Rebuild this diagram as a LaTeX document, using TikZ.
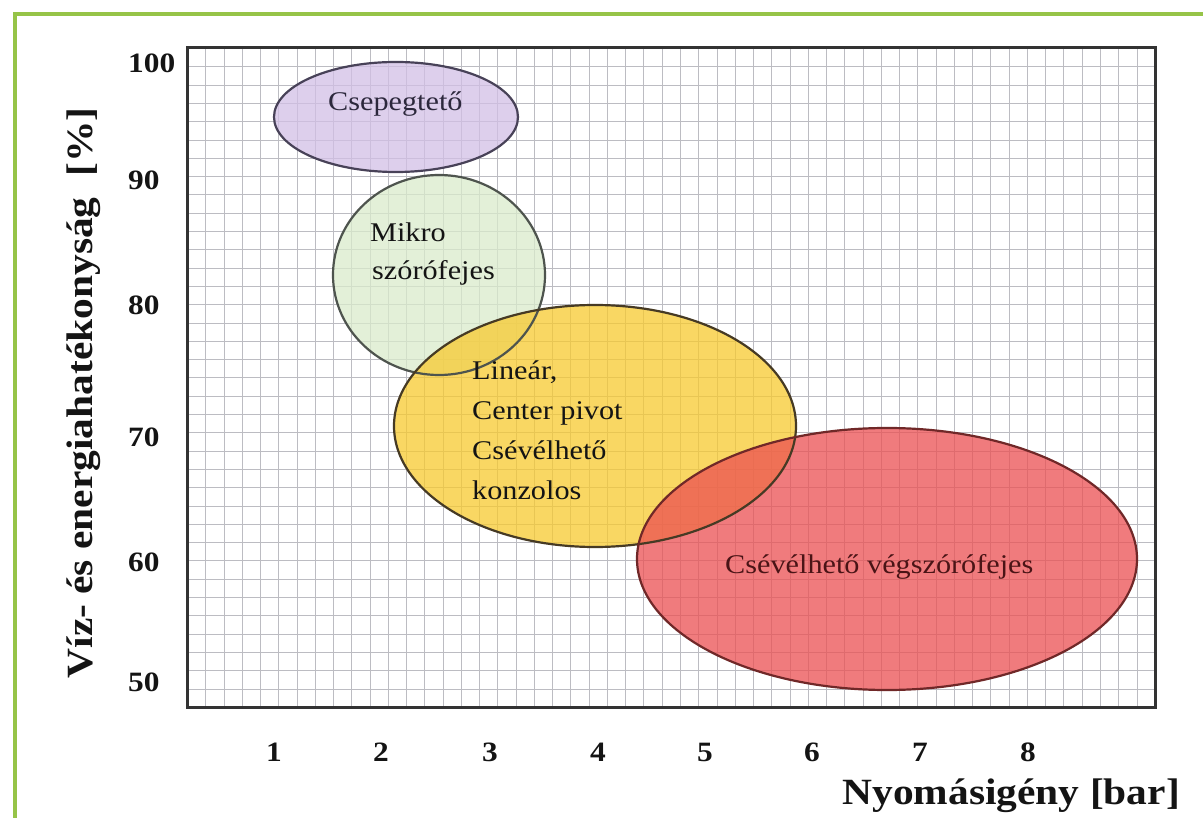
\documentclass[tikz,border=0pt]{standalone}
\usepackage{fontspec}
\setmainfont{Liberation Serif}[FakeStretch=1.12]
\definecolor{frameGreen}{RGB}{150,196,72}
\definecolor{gridgray}{RGB}{188,188,194}
\definecolor{ink}{RGB}{20,20,20}
\definecolor{blobP}{RGB}{210,192,230}
\definecolor{blobG}{RGB}{218,236,204}
\definecolor{blobY}{RGB}{248,202,48}
\definecolor{blobR}{RGB}{236,80,82}
\definecolor{rimP}{RGB}{72,66,88}
\definecolor{rimG}{RGB}{78,84,78}
\definecolor{rimY}{RGB}{70,58,36}
\definecolor{rimR}{RGB}{112,40,40}
\definecolor{txtP}{RGB}{44,40,60}
\definecolor{txtR}{RGB}{74,20,22}
\begin{document}
\begin{tikzpicture}[x=1pt,y=-1pt,
  gridline/.style={draw=gridgray,line width=1.1pt},
  ticklab/.style={font=\fontsize{28}{32}\selectfont\bfseries, text=ink, inner sep=0pt},
  axlab/.style={font=\fontsize{37}{42}\selectfont\bfseries, text=ink, inner sep=0pt},
  lab/.style={font=\fontsize{27}{32}\selectfont, text=ink, inner sep=0pt, anchor=base west},
  blob/.style={fill opacity=0.75},
  rim/.style={line width=2.2pt}]
\useasboundingbox (0,0) rectangle (1203,818);
\fill[white] (0,0) rectangle (1203,818);
% outer green frame
\draw[frameGreen, line width=3.5pt] (15,830) -- (15,14) -- (1215,14);
% grid
\foreach \i in {1,...,52} \draw[gridline] ({187.5+round(18.26*\i)},48) -- ({187.5+round(18.26*\i)},707);
\foreach \j in {1,...,35} \draw[gridline] (187,{48.5+round(18.3*\j)}) -- (1155,{48.5+round(18.3*\j)});
% fills
\fill[blobP, blob] (396,117) ellipse [x radius=122, y radius=55];
\fill[blobG, blob] (439,275) ellipse [x radius=106, y radius=100];
\fill[blobY, blob] (595,426) ellipse [x radius=201, y radius=121];
\fill[blobR, blob] (887,559) ellipse [x radius=250, y radius=131];
% outlines
\draw[rimP, rim] (396,117) ellipse [x radius=122, y radius=55];
\draw[rimG, rim] (439,275) ellipse [x radius=106, y radius=100];
\draw[rimY, rim] (595,426) ellipse [x radius=201, y radius=121];
\draw[rimR, rim] (887,559) ellipse [x radius=250, y radius=131];
% plot frame
\draw[black!80, line width=3pt] (187,48) rectangle (1155,707);
% labels in ellipses
\node[lab, text=txtP] (csep) at (328,111) {Csepegtető};
\node[lab] (mik1) at (370,242) {Mikro};
\node[lab] (mik2) at (372,280) {szórófejes};
\node[lab] (lin1) at (472,380) {Lineár,};
\node[lab] (lin2) at (472,420) {Center pivot};
\node[lab] (lin3) at (472,459) {Csévélhető};
\node[lab] (lin4) at (472,499) {konzolos};
\node[lab, text=txtR] (csev) at (725,573) {Csévélhető végszórófejes};
% y ticks
\node[ticklab, anchor=west] (y100) at (128,63) {100};
\node[ticklab, anchor=west] (y90) at (128,180) {90};
\node[ticklab, anchor=west] (y80) at (128,305) {80};
\node[ticklab, anchor=west] (y70) at (128,437) {70};
\node[ticklab, anchor=west] (y60) at (128,562) {60};
\node[ticklab, anchor=west] (y50) at (128,682) {50};
% x ticks
\node[ticklab] (x1) at (274,752) {1};
\node[ticklab] (x2) at (381,752) {2};
\node[ticklab] (x3) at (490,752) {3};
\node[ticklab] (x4) at (598,752) {4};
\node[ticklab] (x5) at (705,752) {5};
\node[ticklab] (x6) at (812,752) {6};
\node[ticklab] (x7) at (920,752) {7};
\node[ticklab] (x8) at (1028,752) {8};
% axis titles
\node[axlab, anchor=base east] (xt) at (1180,804) {Nyomásigény [bar]};
\node[axlab, rotate=90] (yt) at (84,393) {Víz- és energiahatékonyság\ \ [\%]};
\end{tikzpicture}
\end{document}
